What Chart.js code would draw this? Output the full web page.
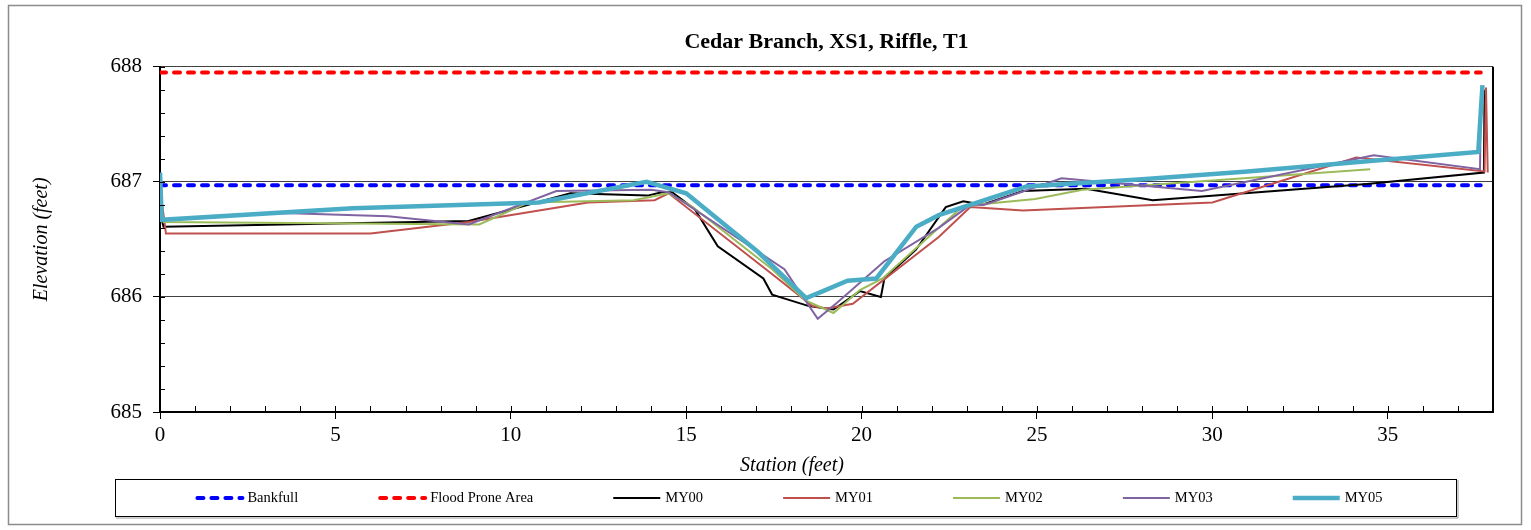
<!DOCTYPE html>
<html>
<head>
<meta charset="utf-8">
<script src="https://cdn.jsdelivr.net/npm/chart.js@4/dist/chart.umd.min.js"></script>
<style>
  body { margin: 0; background: #fff; }
  canvas { display: block; }
</style>
</head>
<body>
<canvas id="graphique" width="1531" height="530"></canvas>
<script>
  // tick labels
  const stationTicks = [0, 5, 10, 15, 20, 25, 30, 35];
  const elevationTicks = [685, 686, 687, 688];

  // bankfull / flood prone levels
  const bankfullStation = [0, 37.65];
  const bankfullElev = [686.97, 686.97];
  const floodStation = [0, 37.65];
  const floodElev = [687.95, 687.95];

  // survey years
  const my00Station = [0.05, 0.1, 8.8, 11.7, 13.9, 14.3, 14.6, 15.25, 15.9, 17.2, 17.45, 18.5, 19.2, 19.95, 20.55, 20.65, 21.55, 22.4, 22.9, 23.45, 24.6, 26.4, 28.3, 34.4, 37.74, 37.76];
  const my00Elev = [686.67, 686.61, 686.66, 686.9, 686.88, 686.91, 686.91, 686.76, 686.44, 686.16, 686.02, 685.92, 685.89, 686.05, 686.0, 686.16, 686.41, 686.78, 686.83, 686.8, 686.92, 686.94, 686.84, 686.98, 687.08, 687.8];

  const my01Station = [0, 0.17, 6.0, 8.8, 12.2, 14.1, 14.5, 17.4, 18.6, 19.0, 19.75, 22.2, 23.1, 24.6, 30.0, 34.1, 37.76, 37.8, 37.85];
  const my01Elev = [686.95, 686.55, 686.55, 686.65, 686.82, 686.84, 686.9, 686.21, 685.92, 685.9, 685.94, 686.52, 686.78, 686.75, 686.82, 687.21, 687.09, 687.82, 687.08];

  const my02Station = [0, 0.1, 9.1, 10.5, 13.5, 14.5, 15.15, 17.45, 18.4, 19.2, 19.95, 20.6, 22.2, 22.9, 24.95, 26.3, 34.5];
  const my02Elev = [686.7, 686.65, 686.63, 686.82, 686.84, 686.9, 686.79, 686.24, 685.97, 685.86, 686.06, 686.16, 686.6, 686.79, 686.85, 686.93, 687.11];

  const my03Station = [0, 0.1, 3.5, 6.5, 8.8, 11.3, 14.0, 14.5, 17.8, 18.75, 19.3, 20.65, 22.2, 23.1, 23.5, 25.7, 29.7, 34.6, 37.63, 37.66];
  const my03Elev = [686.7, 686.67, 686.73, 686.7, 686.63, 686.92, 686.93, 686.91, 686.24, 685.81, 685.95, 686.31, 686.6, 686.8, 686.8, 687.03, 686.92, 687.23, 687.11, 687.8];

  const my05Station = [0, 0.05, 5.5, 10.8, 13.87, 15.0, 17.05, 18.42, 18.9, 19.6, 20.42, 21.56, 22.2, 24.7, 27.9, 31.0, 34.5, 37.58, 37.7];
  const my05Elev = [687.08, 686.67, 686.77, 686.82, 687.0, 686.9, 686.39, 685.99, 686.05, 686.14, 686.16, 686.61, 686.71, 686.96, 687.02, 687.09, 687.18, 687.26, 687.84];

  function toPoints(xs, ys) {
    return xs.map((x, i) => ({ x: x, y: ys[i] }));
  }

  const serif = "'Liberation Serif', 'Times New Roman', serif";

  // frame, right border, minor ticks, x title and the boxed legend
  const decorations = {
    id: 'decorations',
    beforeDraw(chart) {
      const ctx = chart.ctx;
      ctx.save();
      ctx.fillStyle = '#fff';
      ctx.fillRect(0, 0, chart.width, chart.height);
      ctx.strokeStyle = '#8c8c8c';
      ctx.lineWidth = 1.5;
      ctx.strokeRect(8.5, 5.5, 1513, 519);
      ctx.restore();
    },
    afterDatasetsDraw(chart) {
      const ctx = chart.ctx;
      const a = chart.chartArea;
      const xs = chart.scales.x, ys = chart.scales.y;
      ctx.save();
      ctx.strokeStyle = '#000';
      ctx.lineWidth = 2;
      ctx.beginPath();
      ctx.moveTo(a.right, a.top);
      ctx.lineTo(a.right, a.bottom + 1);
      ctx.stroke();
      ctx.lineWidth = 1;
      ctx.beginPath();
      for (let v = 0; v <= 38; v++) {
        const px = Math.round(xs.getPixelForValue(v)) + 0.5;
        ctx.moveTo(px, a.bottom);
        ctx.lineTo(px, a.bottom - 6);
      }
      for (let v = 685; v <= 688.001; v += 0.2) {
        const py = Math.round(ys.getPixelForValue(v)) + 0.5;
        ctx.moveTo(a.left, py);
        ctx.lineTo(a.left + 5, py);
      }
      ctx.stroke();
      ctx.restore();
    },
    afterDraw(chart) {
      const ctx = chart.ctx;
      ctx.save();
      // x axis title
      ctx.fillStyle = '#000';
      ctx.font = 'italic 20px ' + serif;
      ctx.textAlign = 'center';
      ctx.textBaseline = 'middle';
      ctx.fillText('Station (feet)', 792, 466);

      // legend box
      ctx.strokeStyle = '#000';
      ctx.lineWidth = 1;
      ctx.strokeRect(115.5, 479.5, 1341, 37);
      ctx.strokeStyle = '#9a9a9a';
      ctx.beginPath();
      ctx.moveTo(116, 518);
      ctx.lineTo(1458, 518);
      ctx.lineTo(1458, 480);
      ctx.stroke();

      // legend entries
      const sets = chart.data.datasets;
      const sampleW = 47, textGap = 5, itemGap = 80;
      ctx.font = '14.5px ' + serif;
      ctx.textAlign = 'left';
      const widths = sets.map(ds => sampleW + textGap + ctx.measureText(ds.label).width);
      const total = widths.reduce((s, w) => s + w, 0) + itemGap * (sets.length - 1);
      let x = 789 - total / 2;
      const y = 498;
      sets.forEach((ds, i) => {
        ctx.strokeStyle = ds.borderColor;
        ctx.lineWidth = ds.borderWidth;
        ctx.setLineDash(ds.borderDash || []);
        ctx.lineCap = ds.borderCapStyle || 'butt';
        ctx.beginPath();
        ctx.moveTo(x + (ds.borderDash ? 2 : 0), y);
        ctx.lineTo(x + sampleW, y);
        ctx.stroke();
        ctx.setLineDash([]);
        ctx.fillText(ds.label, x + sampleW + textGap, y);
        x += widths[i] + itemGap;
      });
      ctx.restore();
    }
  };

  const lineDefaults = { pointRadius: 0, pointHoverRadius: 0, fill: false, tension: 0, borderJoinStyle: 'miter' };

  new Chart(document.getElementById('graphique').getContext('2d'), {
    type: 'line',
    data: {
      datasets: [
        Object.assign({ label: 'Bankfull', data: toPoints(bankfullStation, bankfullElev), borderColor: '#0000ff', backgroundColor: '#0000ff', borderWidth: 4, borderDash: [6, 8], borderCapStyle: 'round', order: 6 }, lineDefaults),
        Object.assign({ label: 'Flood Prone Area', data: toPoints(floodStation, floodElev), borderColor: '#ff0000', backgroundColor: '#ff0000', borderWidth: 4, borderDash: [6, 8], borderCapStyle: 'round', order: 5 }, lineDefaults),
        Object.assign({ label: 'MY00', data: toPoints(my00Station, my00Elev), borderColor: '#000000', backgroundColor: '#000000', borderWidth: 2, order: 4 }, lineDefaults),
        Object.assign({ label: 'MY01', data: toPoints(my01Station, my01Elev), borderColor: '#c0504d', backgroundColor: '#c0504d', borderWidth: 2, order: 3 }, lineDefaults),
        Object.assign({ label: 'MY02', data: toPoints(my02Station, my02Elev), borderColor: '#9bbb59', backgroundColor: '#9bbb59', borderWidth: 2, order: 2 }, lineDefaults),
        Object.assign({ label: 'MY03', data: toPoints(my03Station, my03Elev), borderColor: '#8064a2', backgroundColor: '#8064a2', borderWidth: 2, order: 1 }, lineDefaults),
        Object.assign({ label: 'MY05', data: toPoints(my05Station, my05Elev), borderColor: '#4bacc6', backgroundColor: '#4bacc6', borderWidth: 4.5, order: 0 }, lineDefaults)
      ]
    },
    options: {
      responsive: false,
      animation: false,
      devicePixelRatio: 1,
      layout: { padding: { left: 8, right: 38, top: 0, bottom: 52 } },
      plugins: {
        tooltip: { enabled: false },
        legend: { display: false },
        title: {
          display: true,
          fullSize: false,
          text: 'Cedar Branch, XS1, Riffle, T1',
          color: '#000',
          font: { family: serif, size: 22, weight: 'bold' },
          padding: { top: 28.8, bottom: 11.5 }
        }
      },
      scales: {
        x: {
          type: 'linear',
          min: 0,
          max: 38,
          afterBuildTicks(scale) { scale.ticks = stationTicks.map(v => ({ value: v })); },
          afterFit(scale) { scale.height = 66; },
          ticks: { color: '#000', font: { family: serif, size: 21 }, padding: 4 },
          grid: { drawOnChartArea: false, drawTicks: true, tickLength: 7, tickColor: '#000' },
          border: { display: true, color: '#000', width: 2 },
          title: { display: false }
        },
        y: {
          type: 'linear',
          min: 685,
          max: 688,
          afterBuildTicks(scale) { scale.ticks = elevationTicks.map(v => ({ value: v })); },
          afterFit(scale) { scale.width = 152; },
          ticks: { color: '#000', font: { family: serif, size: 21 }, padding: 11 },
          grid: { color: '#404040', lineWidth: 1, drawTicks: true, tickLength: 7, tickColor: '#000' },
          border: { display: true, color: '#000', width: 2 },
          title: { display: true, text: 'Elevation (feet)', color: '#000', font: { family: serif, size: 20, style: 'italic' }, padding: { top: 22, bottom: 0 } }
        }
      }
    },
    plugins: [decorations]
  });
</script>
</body>
</html>
